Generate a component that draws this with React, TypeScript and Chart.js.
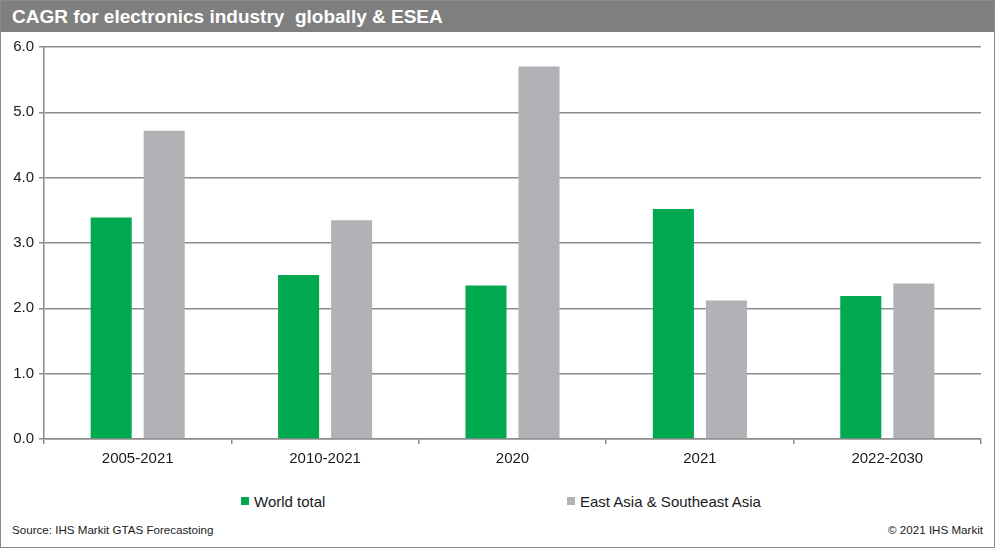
import React, { useEffect, useRef } from "react";
import { Chart, registerables } from "chart.js";

Chart.register(...registerables);

const title = "CAGR for electronics industry\u00a0 globally & ESEA";
const categories = ["2005-2021", "2010-2021", "2020", "2021", "2022-2030"];
const seriesNames = ["World total", "East Asia & Southeast Asia"];
const worldTotal = [3.39, 2.51, 2.35, 3.52, 2.19];
const eastAsia = [4.72, 3.35, 5.7, 2.12, 2.38];
const seriesColors = ["#00a94f", "#b1b2b5"];
const yMin = 0;
const yMax = 6;
const yStep = 1;
const sourceText = "Source: IHS Markit GTAS Forecastoing";
const copyrightText = "\u00a9 2021 IHS Markit";

const FONT = "'Liberation Sans', Arial, Helvetica, sans-serif";

export default function App() {
  const canvasRef = useRef<HTMLCanvasElement | null>(null);

  useEffect(() => {
    document.body.style.margin = "0";
    const canvas = canvasRef.current;
    if (!canvas) return;
    const gridColor = "#8c8c8c";
    const chart = new Chart(canvas, {
      type: "bar",
      data: {
        labels: categories,
        datasets: [
          {
            label: seriesNames[0],
            data: worldTotal,
            backgroundColor: seriesColors[0],
            borderWidth: 0,
            categoryPercentage: 0.566,
            barPercentage: 0.774,
          },
          {
            label: seriesNames[1],
            data: eastAsia,
            backgroundColor: seriesColors[1],
            borderWidth: 0,
            categoryPercentage: 0.566,
            barPercentage: 0.774,
          },
        ],
      },
      options: {
        responsive: false,
        animation: false,
        devicePixelRatio: 1,
        layout: { padding: { left: 0, right: 14, top: 15, bottom: 3 } },
        plugins: {
          legend: { display: false },
          tooltip: { enabled: false },
          title: { display: false },
        },
        scales: {
          x: {
            offset: true,
            grid: {
              offset: true,
              drawOnChartArea: false,
              drawTicks: true,
              tickLength: 5,
              color: gridColor,
              lineWidth: 1.5,
            },
            border: { display: true, color: gridColor, width: 1.5 },
            ticks: {
              color: "#1a1a1a",
              font: { family: FONT, size: 15 },
              padding: 6,
              maxRotation: 0,
            },
            afterFit: (scale: any) => {
              scale.height = 40;
            },
          },
          y: {
            min: yMin,
            max: yMax,
            grid: {
              color: gridColor,
              lineWidth: 1.5,
              drawTicks: true,
              tickLength: 5,
            },
            border: { display: true, color: gridColor, width: 1.5 },
            ticks: {
              stepSize: yStep,
              color: "#1a1a1a",
              font: { family: FONT, size: 15 },
              padding: 5,
              callback: (v: any) => Number(v).toFixed(1),
            },
            afterFit: (scale: any) => {
              scale.width = 44;
            },
          },
        },
      },
    });
    return () => chart.destroy();
  }, []);

  const legendItem = (i: number, left: number) => (
    <div
      key={i}
      style={{
        position: "absolute",
        left,
        top: 491,
        height: 20,
        display: "flex",
        alignItems: "center",
        fontFamily: FONT,
        fontSize: 15,
        color: "#1a1a1a",
        whiteSpace: "nowrap",
      }}
    >
      <span
        style={{
          display: "inline-block",
          width: 8,
          height: 8,
          background: seriesColors[i],
          marginRight: 5,
        }}
      />
      {seriesNames[i]}
    </div>
  );

  return (
    <div
      style={{
        position: "absolute",
        left: 0,
        top: 0,
        width: 995,
        height: 548,
        background: "#ffffff",
        overflow: "hidden",
      }}
    >
      <div
        style={{
          position: "absolute",
          left: 0,
          top: 0,
          width: 995,
          height: 32,
          background: "#7f7f7f",
        }}
      >
        <div
          style={{
            position: "absolute",
            left: 12,
            top: 0,
            height: 34,
            lineHeight: "34px",
            color: "#ffffff",
            fontFamily: FONT,
            fontWeight: "bold",
            fontSize: 19,
            whiteSpace: "nowrap",
          }}
        >
          {title}
        </div>
      </div>
      <canvas
        ref={canvasRef}
        width={995}
        height={450}
        style={{ position: "absolute", left: 0, top: 32, width: 995, height: 450 }}
      />
      {legendItem(0, 241)}
      {legendItem(1, 567)}
      <div
        style={{
          position: "absolute",
          left: 12,
          top: 522,
          lineHeight: "16px",
          fontFamily: FONT,
          fontSize: 11.6,
          color: "#1a1a1a",
          whiteSpace: "nowrap",
        }}
      >
        {sourceText}
      </div>
      <div
        style={{
          position: "absolute",
          right: 12,
          top: 522,
          lineHeight: "16px",
          fontFamily: FONT,
          fontSize: 11.6,
          color: "#1a1a1a",
          whiteSpace: "nowrap",
        }}
      >
        {copyrightText}
      </div>
      <div
        style={{
          position: "absolute",
          left: 0,
          top: 0,
          width: 995,
          height: 548,
          boxSizing: "border-box",
          border: "1.5px solid #8a8a8a",
          pointerEvents: "none",
        }}
      />
    </div>
  );
}
